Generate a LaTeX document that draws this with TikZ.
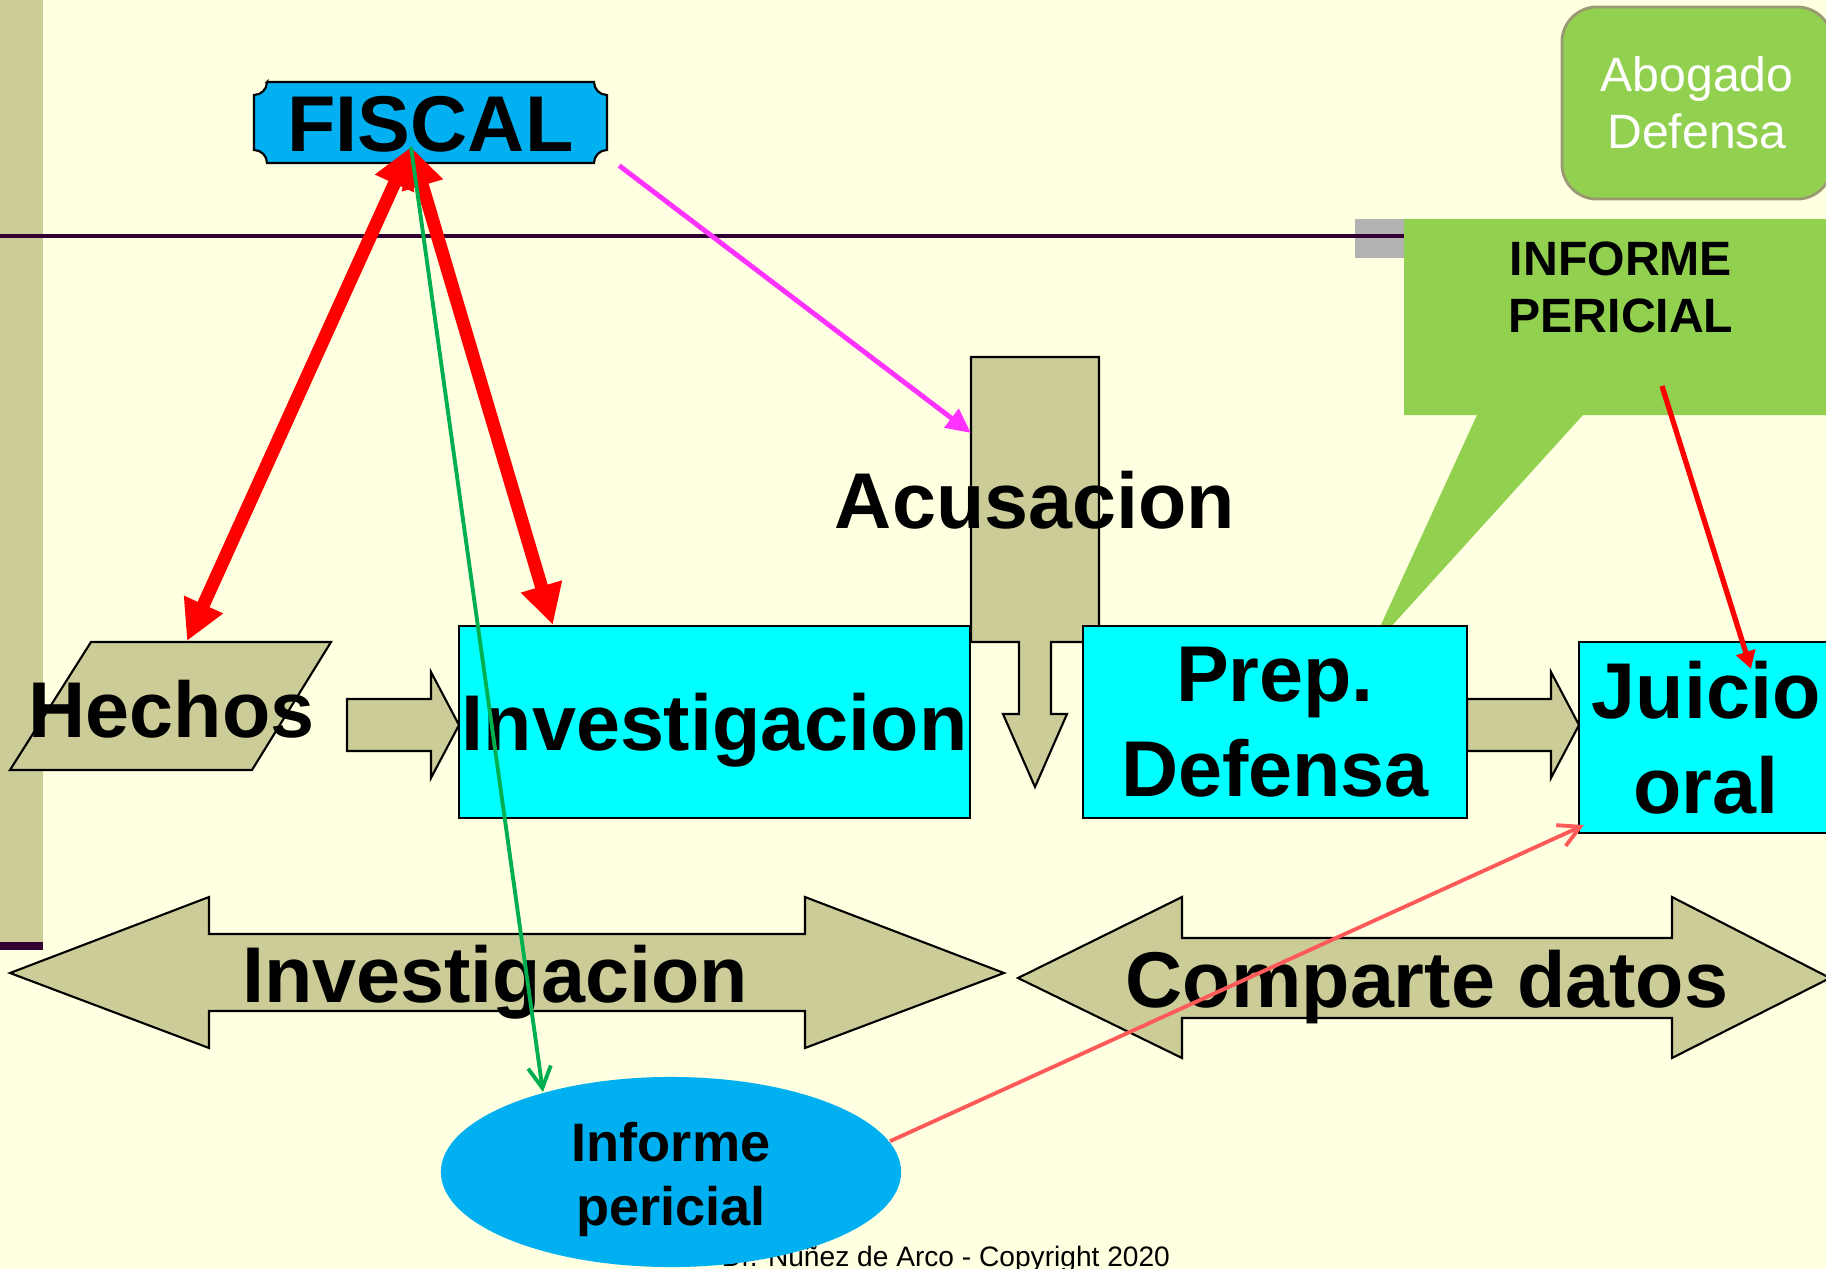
\documentclass[tikz,border=0pt]{standalone}
\usepackage{fontspec}
\setmainfont{Liberation Sans}
\usepackage{tikz}
\usetikzlibrary{arrows.meta, shapes.geometric}

\definecolor{paper}{HTML}{FFFFE1}
\definecolor{khaki}{HTML}{CCCC99}
\definecolor{aqua}{HTML}{00FFFF}
\definecolor{sky}{HTML}{00B0F0}
\definecolor{leaf}{HTML}{92D050}
\definecolor{plum}{HTML}{330033}
\definecolor{greybox}{HTML}{B2B2B2}
\definecolor{olivegrey}{HTML}{9A9A72}
\definecolor{lnmag}{HTML}{FF33FF}
\definecolor{lngreen}{HTML}{00B050}
\definecolor{lnsalmon}{HTML}{FF5A5A}

\begin{document}
\begin{tikzpicture}[x=0.01cm, y=-0.01cm, line width=0.6pt,
    big/.style={font=\fontsize{22.5}{27}\selectfont\bfseries, inner sep=0pt},
    flat/.style={text depth=0pt},
    box/.style={draw, fill=aqua, big, minimum height=1.92cm},
    khakibox/.style={draw, fill=khaki},
    fatarrow/.style={draw=red, line width=3.7pt, {Triangle[length=11.4pt,width=11.4pt]}-{Triangle[length=11.4pt,width=11.4pt]}},
    barb/.style={line width=1.1pt, -{Straight Barb[length=6pt,width=6.5pt]}}]
    \useasboundingbox (0,0) rectangle (1826,1269);
    \fill[paper] (0,0) rectangle (1826,1269);
    \fill[khaki] (0,0) rectangle (43,942);
    \fill[plum] (0,942) rectangle (43,950);
    \fill[greybox] (1355,219) rectangle (1404,258);
    \draw[plum, line width=1.1pt] (0,236) -- (1404,236);

    \node[draw=olivegrey, line width=0.8pt, fill=leaf, rounded corners=0.35cm, minimum width=2.7cm, minimum height=1.92cm,
          text=white, align=center, font=\fontsize{13.7}{16.2}\selectfont](abo) at (1697,103) {Abogado\\Defensa};

    \fill[leaf] (1404,219) -- (1840,219) -- (1840,415) -- (1583,415) -- (1369,651) -- (1477,415) -- (1404,415) -- cycle;
    \node[align=center, font=\fontsize{13.7}{16.2}\selectfont\bfseries](pertit) at (1621,287) {INFORME\\PERICIAL};

    \filldraw[fill=sky] (267,82) -- (594,82) arc[start angle=180, end angle=270, radius=0.13cm]
        -- (607,150) arc[start angle=90, end angle=180, radius=0.13cm]
        -- (267,163) arc[start angle=0, end angle=90, radius=0.13cm]
        -- (254,95) arc[start angle=270, end angle=360, radius=0.13cm] -- cycle;
    \node[big, flat, minimum width=3.53cm, minimum height=0.81cm](fis) at (430.5,124) {FISCAL};

    \filldraw[khakibox] (971,357) -- (1099,357) -- (1099,642) -- (1051,642) -- (1051,714) -- (1067,714)
        -- (1035,787) -- (1003,714) -- (1019,714) -- (1019,642) -- (971,642) -- cycle;
    \node[big, flat](acu) at (1035,500) {Acusacion};

    \filldraw[khakibox] (10,770) -- (91,642) -- (331,642) -- (252,770) -- cycle;
    \node[big, flat](hech) at (171.5,709) {Hechos};

    \filldraw[khakibox] (347,699) -- (431,699) -- (431,672) -- (459,725) -- (431,778) -- (431,751) -- (347,751) -- cycle;
    \filldraw[khakibox] (1467,699) -- (1551,699) -- (1551,672) -- (1579,725) -- (1551,778) -- (1551,751) -- (1467,751) -- cycle;

    \node[box, flat, minimum width=5.11cm](inv) at (714.5,722) {Investigacion};
    \node[box, align=center, minimum width=3.84cm](prep) at (1275,722) {Prep.\\Defensa};
    \node[box, align=center, minimum width=2.54cm, minimum height=1.91cm](jui) at (1706,737.5) {Juicio\\oral};

    \filldraw[khakibox] (10,973) -- (209,897) -- (209,934) -- (805,934) -- (805,897) -- (1004,973)
        -- (805,1048) -- (805,1011) -- (209,1011) -- (209,1048) -- cycle;
    \node[big, flat](invbar) at (495,974) {Investigacion};
    \filldraw[khakibox] (1018,978) -- (1182,897) -- (1182,938) -- (1672,938) -- (1672,897) -- (1830,978)
        -- (1672,1058) -- (1672,1018) -- (1182,1018) -- (1182,1058) -- cycle;
    \node[big, flat](combar) at (1427,979) {Comparte datos};

    \node[anchor=base east, inner sep=0pt, font=\fontsize{8}{9.6}\selectfont](foot) at (1171,1266) {al. Dr. Nuñez de Arco - Copyright 2020};
    \node[ellipse, fill=sky, minimum width=4.6cm, minimum height=1.9cm, inner sep=0pt](inf) at (671,1172) {};
    \node[align=center, font=\fontsize{15.4}{18.2}\selectfont\bfseries](inftxt) at (671,1179) {Informe\\pericial};

    \coordinate(hub) at (411,147);
    \coordinate(hechtop) at (187,641);
    \coordinate(acuin) at (971,433);
    \coordinate(perpt) at (1662,386);

    \draw[fatarrow] (hub) -- (hechtop);
    \draw[fatarrow] (hub) -- ([xshift=0.95cm]inv.north west);
    \draw[lnmag, line width=1.4pt, -{Triangle[length=7pt,width=6.5pt]}] ([xshift=0.11cm]fis.south east) -- (acuin);
    \draw[lngreen, barb] (hub) -- (inf.148);
    \draw[red, line width=1.5pt, -{Triangle[length=5pt,width=5.5pt]}] (perpt) -- ([xshift=1.73cm,yshift=-0.28cm]jui.north west);
    \draw[lnsalmon, barb] (inf.8) -- ([xshift=0.06cm,yshift=0.09cm]jui.south west);
\end{tikzpicture}
\end{document}
